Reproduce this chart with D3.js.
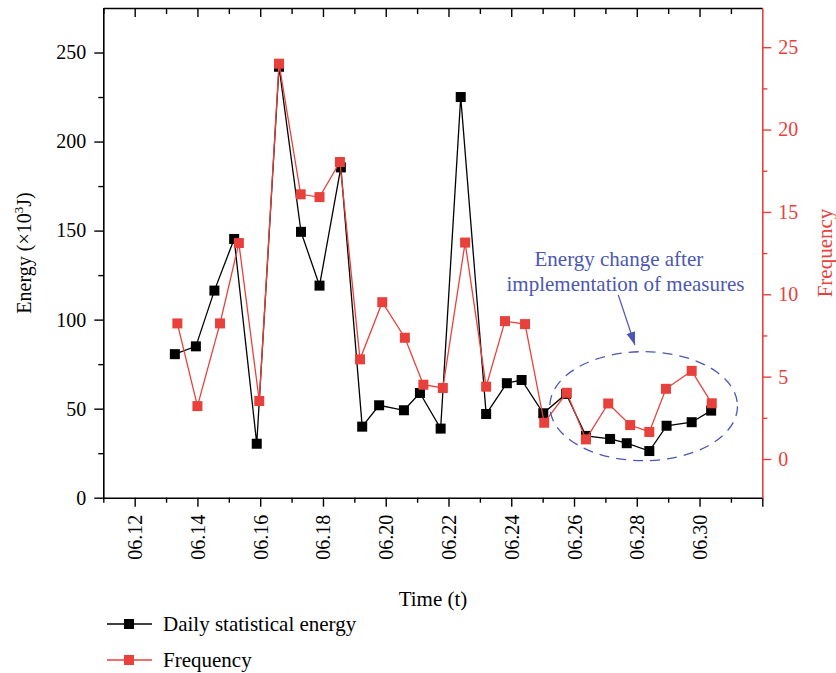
<!DOCTYPE html>
<html>
<head>
<meta charset="utf-8">
<script src="https://cdn.jsdelivr.net/npm/d3@7"></script>
<style>
  body { margin: 0; background: #fff; }
  svg text { font-family: "Liberation Serif", "DejaVu Serif", serif; }
</style>
</head>
<body>
<svg id="chart" width="836" height="673"></svg>
<script>
// data (x values in days of June)
const energyDays = [13.28, 13.95, 14.54, 15.17, 15.89, 16.60, 17.30, 17.89, 18.57, 19.25, 19.79, 20.58, 21.09, 21.75,
  22.39, 23.20, 23.86, 24.33, 25.02, 25.75, 26.38, 27.15, 27.68, 28.40, 28.95, 29.75, 30.37];
const energy = [80.6, 85, 116.3, 145.3, 30.3, 242, 149.3, 119.1, 185.5, 39.9, 51.9, 49.1, 58.8, 38.8,
  225, 47.0, 64.3, 66.1, 47.4, 58.3, 34.7, 33.0, 30.6, 26.2, 40.4, 42.4, 48.9];

const freqDays = [13.36, 14.00, 14.72, 15.32, 15.97, 16.60, 17.29, 17.89, 18.54, 19.18, 19.89, 20.61, 21.20, 21.82,
  22.53, 23.20, 23.80, 24.44, 25.05, 25.77, 26.38, 27.09, 27.79, 28.40, 28.93, 29.75, 30.39];
const frequency = [8.23, 3.21, 8.23, 13.11, 3.52, 24.0, 16.07, 15.9, 18.03, 6.05, 9.52, 7.36, 4.51, 4.31,
  13.14, 4.39, 8.37, 8.19, 2.2, 4.02, 1.19, 3.37, 2.06, 1.64, 4.26, 5.35, 3.38];

const xMajorTicks = [12, 14, 16, 18, 20, 22, 24, 26, 28, 30, 32];
const xMinorTicks = [11, 13, 15, 17, 19, 21, 23, 25, 27, 29, 31];
const xTickLabels = ["06.12", "06.14", "06.16", "06.18", "06.20", "06.22", "06.24", "06.26", "06.28", "06.30", ""];
const energyTicks = [0, 50, 100, 150, 200, 250];
const energyMinor = [25, 75, 125, 175, 225];
const freqTicks = [0, 5, 10, 15, 20, 25];
const freqMinor = [2.5, 7.5, 12.5, 17.5, 22.5];

const red = "#e8413b";
const blue = "#4b57b3";
const serif = "Liberation Serif, DejaVu Serif, serif";

const plotLeft = 103.3, plotRight = 762.3, plotTop = 8, plotBottom = 497.7;

const svg = d3.select("#chart");

const x = d3.scaleLinear().domain([11, 32]).range([plotLeft, plotRight]);
const yE = d3.scaleLinear().domain([0, 275]).range([plotBottom, plotTop]);
const yF = d3.scaleLinear().domain([-2.35, 27.38]).range([plotBottom, plotTop]);

function styleAxis(g, color) {
  g.attr("font-family", serif).attr("font-size", 20);
  g.selectAll("path").attr("stroke", color).attr("stroke-width", 1.6);
  g.selectAll("line").attr("stroke", color).attr("stroke-width", 1.4);
  g.selectAll("text").attr("fill", color).attr("font-family", serif).attr("font-size", 20);
}

// bottom axis
const xAxis = svg.append("g")
  .attr("transform", `translate(0,${plotBottom})`)
  .call(d3.axisBottom(x).tickValues(xMajorTicks).tickSize(9).tickSizeOuter(0)
    .tickFormat((d, i) => xTickLabels[i]));
styleAxis(xAxis, "#000");
xAxis.selectAll("text")
  .attr("transform", "rotate(-90)")
  .attr("text-anchor", "end")
  .attr("x", -17).attr("y", 0).attr("dy", "0.35em");

const xMinor = svg.append("g")
  .attr("transform", `translate(0,${plotBottom})`)
  .call(d3.axisBottom(x).tickValues(xMinorTicks).tickSize(5).tickFormat(""));
xMinor.select(".domain").remove();
styleAxis(xMinor, "#000");

// top frame with inward ticks
const topAxis = svg.append("g")
  .attr("transform", `translate(0,${plotTop})`)
  .call(d3.axisTop(x).tickValues(xMajorTicks.slice(0, -1)).tickSize(-9).tickSizeOuter(0).tickFormat(""));
styleAxis(topAxis, "#000");
const topMinor = svg.append("g")
  .attr("transform", `translate(0,${plotTop})`)
  .call(d3.axisTop(x).tickValues(xMinorTicks).tickSize(-6).tickFormat(""));
topMinor.select(".domain").remove();
styleAxis(topMinor, "#000");

// left energy axis
const yAxisE = svg.append("g")
  .attr("transform", `translate(${plotLeft},0)`)
  .call(d3.axisLeft(yE).tickValues(energyTicks).tickSize(9).tickSizeOuter(0).tickPadding(8));
styleAxis(yAxisE, "#000");
const yMinorE = svg.append("g")
  .attr("transform", `translate(${plotLeft},0)`)
  .call(d3.axisLeft(yE).tickValues(energyMinor).tickSize(5).tickFormat(""));
yMinorE.select(".domain").remove();
styleAxis(yMinorE, "#000");

// right frequency axis
const yAxisF = svg.append("g")
  .attr("transform", `translate(${plotRight},0)`)
  .call(d3.axisRight(yF).tickValues(freqTicks).tickSize(9).tickSizeOuter(0).tickPadding(7));
styleAxis(yAxisF, red);
const yMinorF = svg.append("g")
  .attr("transform", `translate(${plotRight},0)`)
  .call(d3.axisRight(yF).tickValues(freqMinor).tickSize(5).tickFormat(""));
yMinorF.select(".domain").remove();
styleAxis(yMinorF, red);

// axis titles
svg.append("text")
  .attr("x", 433).attr("y", 606)
  .attr("text-anchor", "middle")
  .style("font-size", "21px")
  .text("Time (t)");

const eTitle = svg.append("text")
  .attr("transform", "translate(31,253) rotate(-90)")
  .attr("text-anchor", "middle")
  .style("font-size", "20px");
eTitle.append("tspan").text("Energy (×10");
eTitle.append("tspan").attr("dy", -8).style("font-size", "13px").text("3");
eTitle.append("tspan").attr("dy", 8).text("J)");

svg.append("text")
  .attr("transform", "translate(832,253) rotate(-90)")
  .attr("text-anchor", "middle")
  .attr("fill", red)
  .style("font-size", "21px")
  .text("Frequency");

// series
const energyPts = d3.zip(energyDays, energy);
const freqPts = d3.zip(freqDays, frequency);

svg.append("path")
  .datum(energyPts)
  .attr("fill", "none")
  .attr("stroke", "#000")
  .attr("stroke-width", 1.3)
  .attr("d", d3.line().x(d => x(d[0])).y(d => yE(d[1])));

svg.append("g").selectAll("rect")
  .data(energyPts)
  .enter()
  .append("rect")
  .attr("x", d => x(d[0]) - 5)
  .attr("y", d => yE(d[1]) - 5)
  .attr("width", 10).attr("height", 10)
  .attr("fill", "#000");

svg.append("path")
  .datum(freqPts)
  .attr("fill", "none")
  .attr("stroke", red)
  .attr("stroke-width", 1.3)
  .attr("d", d3.line().x(d => x(d[0])).y(d => yF(d[1])));

svg.append("g").selectAll("rect")
  .data(freqPts)
  .enter()
  .append("rect")
  .attr("x", d => x(d[0]) - 5)
  .attr("y", d => yF(d[1]) - 5)
  .attr("width", 10).attr("height", 10)
  .attr("fill", red);

// annotation: dashed ellipse, arrow and note
svg.append("ellipse")
  .attr("cx", x(28.22))
  .attr("cy", yE(51.4))
  .attr("rx", x(28.22 + 2.99) - x(28.22))
  .attr("ry", yE(51.4 - 30.6) - yE(51.4))
  .attr("fill", "none")
  .attr("stroke", blue)
  .attr("stroke-width", 1.3)
  .attr("stroke-dasharray", "10,7");

svg.append("defs").append("marker")
  .attr("id", "arrow")
  .attr("markerUnits", "userSpaceOnUse")
  .attr("markerWidth", 14).attr("markerHeight", 10)
  .attr("refX", 13).attr("refY", 4.5)
  .attr("orient", "auto")
  .append("path")
  .attr("d", "M0,0 L13,4.5 L0,9 Z")
  .attr("fill", blue);

svg.append("line")
  .attr("x1", x(27.41)).attr("y1", yE(113.9))
  .attr("x2", x(27.94)).attr("y2", yE(85.8))
  .attr("stroke", blue)
  .attr("stroke-width", 1.3)
  .attr("marker-end", "url(#arrow)");

svg.append("text")
  .attr("x", x(27.43)).attr("y", yE(130.2))
  .attr("text-anchor", "middle")
  .attr("fill", blue)
  .style("font-size", "21px")
  .text("Energy change after");
svg.append("text")
  .attr("x", x(27.64)).attr("y", yE(116.1))
  .attr("text-anchor", "middle")
  .attr("fill", blue)
  .style("font-size", "21px")
  .text("implementation of measures");

// legend
const legend = [
  { name: "Daily statistical energy", color: "#000", y: 624 },
  { name: "Frequency", color: red, y: 660 }
];
const lg = svg.append("g").selectAll("g")
  .data(legend)
  .enter()
  .append("g")
  .attr("transform", d => `translate(107,${d.y})`);
lg.append("line")
  .attr("x1", 0).attr("x2", 45)
  .attr("stroke", d => d.color)
  .attr("stroke-width", 1.3);
lg.append("rect")
  .attr("x", 17).attr("y", -5)
  .attr("width", 10).attr("height", 10)
  .attr("fill", d => d.color);
lg.append("text")
  .attr("x", 56).attr("dy", "0.35em")
  .style("font-size", "21px")
  .text(d => d.name);
</script>
</body>
</html>
